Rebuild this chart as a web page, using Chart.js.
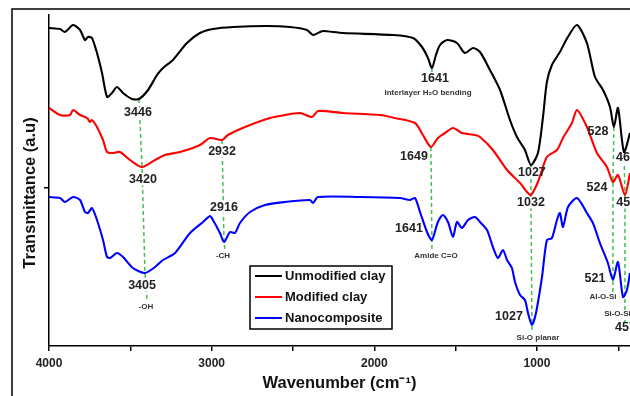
<!DOCTYPE html>
<html>
<head>
<meta charset="utf-8">
<script src="https://cdn.jsdelivr.net/npm/chart.js@4.4.0/dist/chart.umd.min.js"></script>
<style>
html, body { margin: 0; padding: 0; background: #fff; }
</style>
</head>
<body>
<canvas id="myChart" width="630" height="396"></canvas>
<script>
// spectra (wavenumber in cm-1, transmittance in arbitrary units)
var unmodWave = [4000,3932,3902,3852,3809,3779,3760,3736,3705,3674,3643,3613,3582,3545,3490,3447,3391,3336,3299,3238,3152,3072,2992,2869,2660,2518,2414,2377,2334,2316,2193,1885,1762,1707,1670,1646,1621,1596,1553,1492,1443,1393,1350,1289,1227,1166,1123,1074,1037,994,963,939,908,859,810,754,693,643,594,551,527,502,465,428];
var unmodT    = [318,317,314,321,316,306,309,308,293,273,249,253,259,253,247,247,256,271,278,286,303,313,317,319,320,319,316,311,314,315,313,311,308,299,288,278,291,301,306,303,293,298,294,276,256,226,209,196,181,193,229,264,281,294,309,321,303,269,256,239,219,238,194,213];

var modWave = [4000,3932,3871,3852,3809,3766,3748,3736,3705,3668,3643,3607,3564,3502,3428,3348,3287,3195,3072,3010,2936,2900,2795,2641,2549,2457,2383,2346,2193,1965,1873,1750,1701,1652,1609,1566,1516,1461,1381,1350,1271,1184,1104,1061,1037,994,939,877,840,785,754,693,631,570,533,502,459,428];
var modT    = [238,231,231,236,231,228,224,226,219,206,194,193,194,186,179,186,191,194,201,208,206,211,219,228,231,233,229,235,233,231,228,223,211,199,208,213,218,213,211,209,196,176,163,154,151,164,189,196,208,223,236,219,193,179,164,171,151,173];

var nanoWave = [4000,3932,3902,3852,3809,3779,3760,3736,3705,3668,3643,3625,3582,3545,3484,3410,3348,3299,3225,3133,3053,3010,2992,2949,2924,2887,2857,2826,2764,2672,2549,2396,2377,2346,2088,1842,1781,1750,1719,1676,1646,1609,1578,1547,1516,1492,1461,1424,1381,1350,1307,1271,1240,1209,1184,1154,1135,1104,1074,1055,1031,1006,969,939,908,877,859,840,809,754,693,656,613,564,533,502,471,447,428];
var nanoT    = [149,148,144,149,146,134,133,138,126,106,89,88,93,89,78,73,79,86,93,113,124,130,126,113,104,114,113,123,134,141,144,146,143,149,149,148,146,148,134,114,106,124,131,124,109,124,118,126,129,124,116,99,88,96,86,78,64,51,46,33,21,33,69,106,108,126,133,119,139,148,133,123,103,83,66,84,49,56,73];

var seriesNames = ["Unmodified clay", "Modified clay", "Nanocomposite"];
var seriesColors = ["#000000", "#ff0000", "#0000ff"];
var xTicks = [4000, 3500, 3000, 2500, 2000, 1500, 1000, 500];

// dashed guide lines through the peaks, [wavenumber, T]
var guides = [
  [[3447,247],[3428,179],[3410,73],[3398,46]],
  [[2936,206],[2924,104],[2918,96]],
  [[1646,278],[1646,271]],
  [[1652,199],[1646,106],[1646,94]],
  [[1037,181],[1037,151],[1031,21],[1031,14]],
  [[527,219],[533,164],[533,66],[533,54]],
  [[465,194],[459,151],[459,24]]
];

// peak labels: text, wavenumber, T, size, align
var notes = [
  ["3446", 3453, 233, "big", "center"],
  ["3420", 3422, 166, "big", "center"],
  ["3405", 3428, 60, "big", "center"],
  ["-OH", 3404, 39, "small", "center"],
  ["2932", 2936, 194, "big", "center"],
  ["2916", 2924, 138, "big", "center"],
  ["-CH", 2930, 90, "small", "center"],
  ["1641", 1627, 267, "big", "center"],
  ["Interlayer H\u2082O bending", 1670, 253, "small", "center"],
  ["1649", 1756, 189, "big", "center"],
  ["1641", 1787, 117, "big", "center"],
  ["Amide C=O", 1621, 90, "small", "center"],
  ["1027", 1031, 173, "big", "center"],
  ["1032", 1037, 143, "big", "center"],
  ["1027", 1172, 29, "big", "center"],
  ["Si-O planar", 994, 8, "small", "center"],
  ["528", 625, 214, "big", "center"],
  ["524", 631, 158, "big", "center"],
  ["521", 643, 67, "big", "center"],
  ["Al-O-Si", 594, 49, "small", "center"],
  ["468", 514, 188, "big", "left"],
  ["459", 512, 143, "big", "left"],
  ["Si-O-Si", 587, 32, "small", "left"],
  ["457", 520, 18, "big", "left"]
];

var FONT = "'Liberation Sans', Arial, sans-serif";

function pairs(w, t) {
  return w.map(function (v, i) { return { x: v, y: t[i] }; });
}

function noteFont(size) {
  return size == "big" ? "bold 12.5px " + FONT : "bold 8px " + FONT;
}

var extras = {
  id: "extras",
  beforeDatasetsDraw: function (chart) {
    var ctx = chart.ctx, xs = chart.scales.x, ys = chart.scales.y;
    ctx.save();
    ctx.strokeStyle = "rgb(70,190,80)";
    ctx.lineWidth = 1.5;
    ctx.setLineDash([4, 3]);
    guides.forEach(function (g) {
      ctx.beginPath();
      g.forEach(function (p, i) {
        var px = xs.getPixelForValue(p[0]), py = ys.getPixelForValue(p[1]);
        if (i == 0) ctx.moveTo(px, py); else ctx.lineTo(px, py);
      });
      ctx.stroke();
    });
    ctx.setLineDash([]);
    // white patches behind the labels
    ctx.fillStyle = "#fff";
    notes.forEach(function (n) {
      ctx.font = noteFont(n[3]);
      var w = ctx.measureText(n[0]).width;
      var h = n[3] == "big" ? 11 : 8;
      var px = xs.getPixelForValue(n[1]), py = ys.getPixelForValue(n[2]);
      var x0 = n[4] == "left" ? px : px - w / 2;
      ctx.fillRect(x0 - 1, py - h / 2, w + 2, h);
    });
    ctx.restore();
  },
  afterDatasetsDraw: function (chart) {
    var ctx = chart.ctx, xs = chart.scales.x, ys = chart.scales.y;
    ctx.save();
    ctx.textBaseline = "middle";
    notes.forEach(function (n) {
      ctx.font = noteFont(n[3]);
      ctx.fillStyle = n[3] == "big" ? "#222" : "#333";
      ctx.textAlign = n[4];
      ctx.fillText(n[0], xs.getPixelForValue(n[1]), ys.getPixelForValue(n[2]));
    });
    ctx.restore();
  },
  afterDraw: function (chart) {
    var ctx = chart.ctx;
    ctx.save();
    // outer frame of the figure
    ctx.strokeStyle = "#000";
    ctx.lineWidth = 1.5;
    ctx.beginPath();
    ctx.moveTo(12, 396);
    ctx.lineTo(12, 9);
    ctx.lineTo(630, 9);
    ctx.stroke();

    // y title
    ctx.translate(30, 193);
    ctx.rotate(-Math.PI / 2);
    ctx.font = "bold 16.5px " + FONT;
    ctx.fillStyle = "#111";
    ctx.textAlign = "center";
    ctx.textBaseline = "middle";
    ctx.fillText("Transmittance (a.u)", 0, 0);
    ctx.restore();

    // legend box
    ctx.save();
    ctx.fillStyle = "#fff";
    ctx.fillRect(250, 266, 142, 63);
    ctx.strokeStyle = "#000";
    ctx.lineWidth = 1.5;
    ctx.strokeRect(250, 266, 142, 63);
    ctx.font = "bold 13px " + FONT;
    ctx.textBaseline = "middle";
    ctx.fillStyle = "#111";
    chart.data.datasets.forEach(function (ds, i) {
      var y = 276 + i * 21;
      ctx.strokeStyle = ds.borderColor;
      ctx.lineWidth = 2;
      ctx.beginPath();
      ctx.moveTo(255, y);
      ctx.lineTo(282, y);
      ctx.stroke();
      ctx.fillText(ds.label, 285, y + 0.5);
    });
    ctx.restore();
  }
};

new Chart("myChart", {
  type: "line",
  data: {
    datasets: [
      { label: seriesNames[0], data: pairs(unmodWave, unmodT), borderColor: seriesColors[0] },
      { label: seriesNames[1], data: pairs(modWave, modT), borderColor: seriesColors[1] },
      { label: seriesNames[2], data: pairs(nanoWave, nanoT), borderColor: seriesColors[2] }
    ]
  },
  options: {
    responsive: false,
    animation: false,
    parsing: false,
    layout: { padding: { top: 15, left: 0, right: 0, bottom: 0 } },
    elements: {
      line: { borderWidth: 2.1, tension: 0.25, fill: false },
      point: { radius: 0 }
    },
    plugins: {
      legend: { display: false },
      tooltip: { enabled: false }
    },
    scales: {
      x: {
        type: "linear",
        reverse: true,
        min: 428,
        max: 4000,
        afterBuildTicks: function (axis) {
          axis.ticks = xTicks.map(function (v) { return { value: v }; });
        },
        afterFit: function (axis) { axis.height = 50; },
        ticks: {
          autoSkip: false,
          maxRotation: 0,
          padding: 5,
          color: "#222",
          font: { family: FONT, size: 12, weight: "bold" },
          callback: function (v) { return v % 1000 == 0 ? String(v) : ""; }
        },
        grid: { drawOnChartArea: false, drawTicks: true, tickLength: 5, color: "#000", lineWidth: 1.5 },
        border: { display: true, color: "#000", width: 1.5 },
        title: {
          display: true,
          text: "Wavenumber (cm\u207B\u00B9)",
          color: "#111",
          font: { family: FONT, size: 16.5, weight: "bold" },
          padding: { top: 0, bottom: 3 }
        }
      },
      y: {
        min: 0,
        max: 331,
        afterBuildTicks: function (axis) { axis.ticks = [{ value: 158 }]; },
        afterFit: function (axis) { axis.width = 49; },
        ticks: { callback: function () { return ""; } },
        grid: { drawOnChartArea: false, drawTicks: true, tickLength: 5, color: "#000", lineWidth: 1.5 },
        border: { display: true, color: "#000", width: 1.5 }
      }
    }
  },
  plugins: [extras]
});
</script>
</body>
</html>
